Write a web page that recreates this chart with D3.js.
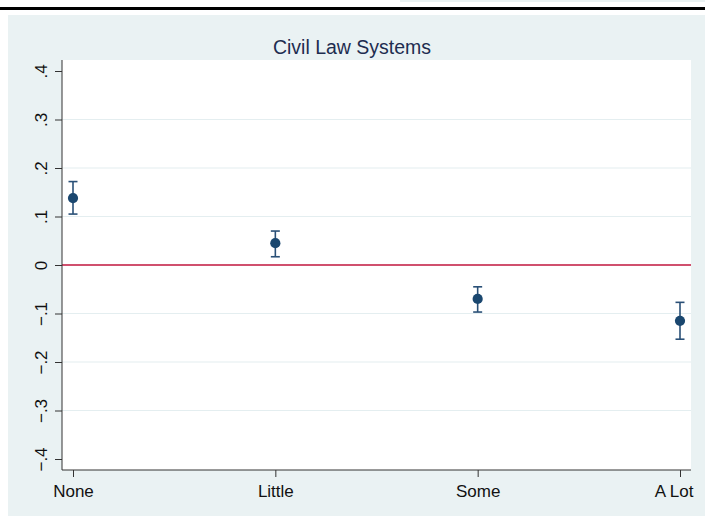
<!DOCTYPE html>
<html>
<head>
<meta charset="utf-8">
<script src="https://cdn.jsdelivr.net/npm/d3@7"></script>
<style>
  html, body { margin: 0; padding: 0; background: #ffffff; }
  svg { display: block; }
  text { font-family: "Liberation Sans", Arial, Helvetica, sans-serif; }
</style>
</head>
<body>
<svg id="chart" width="705" height="518"></svg>
<script>
// Marginal effect estimates by category, with confidence bounds
const categories = ["None", "Little", "Some", "A Lot"];
const estimates  = [0.138, 0.045, -0.070, -0.115];
const lowerBound = [0.105, 0.017, -0.097, -0.153];
const upperBound = [0.172, 0.070, -0.045, -0.077];
const yTicks     = [-0.4, -0.3, -0.2, -0.1, 0, 0.1, 0.2, 0.3, 0.4];
const gridTicks  = [-0.3, -0.2, -0.1, 0.1, 0.2, 0.3];
const titleText  = "Civil Law Systems";

const svg = d3.select("#chart");
const W = 705, H = 518;

// outer frame pieces
svg.append("rect").attr("x", 400).attr("y", 0).attr("width", W - 400).attr("height", 2).attr("fill", "#eaf2f3");
svg.append("rect").attr("x", 0).attr("y", 7).attr("width", W).attr("height", 3).attr("fill", "#000");
svg.append("rect").attr("x", 8).attr("y", 15).attr("width", W - 8).attr("height", 501).attr("fill", "#eaf2f3");

const plot = { left: 62, right: 691, top: 60, bottom: 470 };

svg.append("rect")
  .attr("x", plot.left).attr("y", plot.top)
  .attr("width", plot.right - plot.left).attr("height", plot.bottom - plot.top)
  .attr("fill", "#ffffff");

const x = d3.scaleLinear().domain([0, categories.length - 1]).range([73, 680]);
const y = d3.scaleLinear().domain([-0.4, 0.4]).range([459, 71]);

// gridlines
svg.append("g").selectAll("line").data(gridTicks).join("line")
  .attr("x1", plot.left).attr("x2", plot.right)
  .attr("y1", d => y(d)).attr("y2", d => y(d))
  .attr("stroke", "#e4eef0").attr("stroke-width", 1.2);

// zero reference line
svg.append("line")
  .attr("x1", plot.left).attr("x2", plot.right)
  .attr("y1", y(0)).attr("y2", y(0))
  .attr("stroke", "#c0163e").attr("stroke-width", 1.4);

// y axis
const fmt = d => d === 0 ? "0" : d3.format(".1f")(d).replace("0.", ".");
const yAxis = svg.append("g")
  .attr("transform", `translate(${plot.left},0)`)
  .call(d3.axisLeft(y).tickValues(yTicks).tickSize(7).tickSizeOuter(0).tickFormat(fmt));
yAxis.select(".domain").attr("d", `M0,${plot.top}V${plot.bottom}`).attr("stroke", "#333");
yAxis.selectAll(".tick line").attr("stroke", "#333");
yAxis.selectAll(".tick text")
  .attr("x", 0).attr("dy", null)
  .attr("transform", "translate(-21,0) rotate(-90)")
  .attr("text-anchor", "middle")
  .attr("dominant-baseline", "central")
  .attr("font-size", 17).attr("fill", "#111");

// x axis
const xAxis = svg.append("g")
  .attr("transform", `translate(0,${plot.bottom})`)
  .call(d3.axisBottom(x).tickValues(d3.range(categories.length)).tickSize(7).tickSizeOuter(0)
    .tickFormat(i => categories[i]));
xAxis.select(".domain").attr("d", `M${plot.left},0H${plot.right}`).attr("stroke", "#333");
xAxis.selectAll(".tick line").attr("stroke", "#333");
xAxis.selectAll(".tick text")
  .attr("y", 15).attr("dy", "0.71em")
  .attr("font-size", 17).attr("fill", "#111");
xAxis.selectAll(".tick text").filter((d, i) => i === categories.length - 1)
  .attr("text-anchor", "end").attr("dx", 13);

// confidence interval caps
const barColor = "#2a5077";
const capHalf = 4.5;
const bars = svg.append("g");
categories.forEach((c, i) => {
  const cx = x(i);
  bars.append("line").attr("x1", cx).attr("x2", cx)
    .attr("y1", y(lowerBound[i])).attr("y2", y(upperBound[i]))
    .attr("stroke", barColor).attr("stroke-width", 1.6);
  [lowerBound[i], upperBound[i]].forEach(v => {
    bars.append("line").attr("x1", cx - capHalf).attr("x2", cx + capHalf)
      .attr("y1", y(v)).attr("y2", y(v))
      .attr("stroke", barColor).attr("stroke-width", 1.6);
  });
});

// point estimates
svg.append("g").selectAll("circle").data(estimates).join("circle")
  .attr("cx", (d, i) => x(i)).attr("cy", d => y(d))
  .attr("r", 5.1).attr("fill", "#1a476f");

// title
svg.append("text")
  .attr("x", 352).attr("y", 47)
  .attr("text-anchor", "middle").attr("dominant-baseline", "central")
  .attr("font-size", 19.5).attr("fill", "#1e2d50")
  .text(titleText);
</script>
</body>
</html>
